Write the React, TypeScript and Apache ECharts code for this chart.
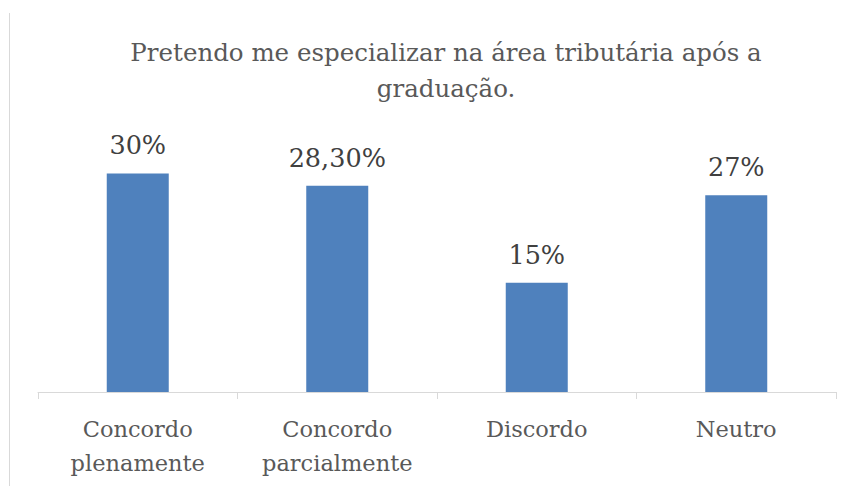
import React, { useEffect, useRef } from "react";
import * as echarts from "echarts";

const categories = ["Concordo\nplenamente", "Concordo\nparcialmente", "Discordo", "Neutro"];
const values = [30, 28.3, 15, 27];
const valueLabels = ["30%", "28,30%", "15%", "27%"];
const titleText = "Pretendo me especializar na área tributária após a\ngraduação.";
const FONT = "DejaVu Serif";

export default function App() {
  const ref = useRef<HTMLDivElement>(null);
  useEffect(() => {
    if (!ref.current) return;
    const chart = echarts.init(ref.current, null, { renderer: "svg" });
    chart.setOption({
      animation: false,
      backgroundColor: "#ffffff",
      title: {
        text: titleText,
        left: 441,
        textAlign: "center",
        top: 29,
        textStyle: {
          fontFamily: FONT,
          fontSize: 24.5,
          fontWeight: "normal",
          color: "#595959",
          lineHeight: 36,
        },
      },
      graphic: [
        {
          type: "line",
          shape: { x1: 9.5, y1: 13, x2: 9.5, y2: 486 },
          style: { stroke: "#d9d9d9", lineWidth: 1 },
        },
      ],
      grid: { left: 38, right: 15, top: 137, bottom: 94 },
      xAxis: {
        type: "category",
        data: categories,
        boundaryGap: true,
        axisLine: { show: true, lineStyle: { color: "#d9d9d9", width: 1 } },
        axisTick: { show: true, length: 7, alignWithLabel: false, lineStyle: { color: "#d9d9d9" } },
        axisLabel: {
          interval: 0,
          margin: 20,
          fontFamily: FONT,
          fontSize: 22.5,
          lineHeight: 34,
          color: "#595959",
        },
      },
      yAxis: {
        type: "value",
        min: 0,
        max: 35,
        show: false,
        splitLine: { show: false },
      },
      series: [
        {
          type: "bar",
          data: values,
          barWidth: 62,
          itemStyle: { color: "#4F81BD" },
          label: {
            show: true,
            position: "top",
            distance: 15,
            fontFamily: FONT,
            fontSize: 25.5,
            color: "#404040",
            formatter: (p: any) => valueLabels[p.dataIndex],
          },
        },
      ],
    });
    return () => chart.dispose();
  }, []);
  return <div ref={ref} style={{ width: 851, height: 486, position: "absolute", left: 0, top: 0 }} />;
}
